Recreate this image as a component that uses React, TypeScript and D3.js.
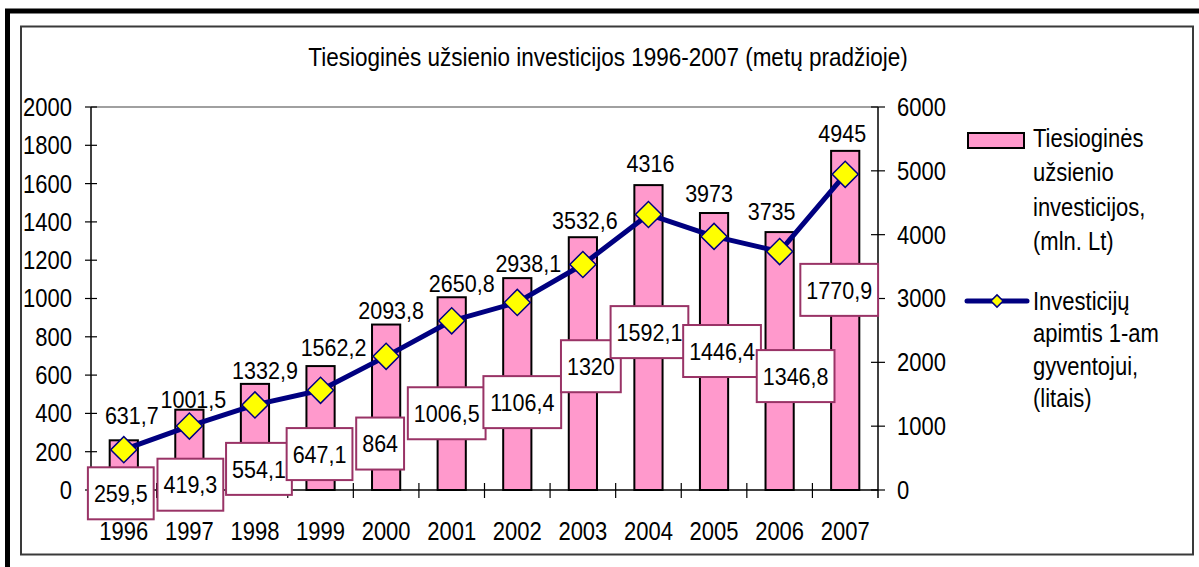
import React from "react";
import * as d3 from "d3";

// data (mln. Lt and litai per resident)
const years = ["1996", "1997", "1998", "1999", "2000", "2001", "2002", "2003", "2004", "2005", "2006", "2007"];
const investTotal = [259.5, 419.3, 554.1, 647.1, 864, 1006.5, 1106.4, 1320, 1592.1, 1446.4, 1346.8, 1770.9];
const investPerCapita = [631.7, 1001.5, 1332.9, 1562.2, 2093.8, 2650.8, 2938.1, 3532.6, 4316, 3973, 3735, 4945];
const leftTicks = [0, 200, 400, 600, 800, 1000, 1200, 1400, 1600, 1800, 2000];
const rightTicks = [0, 1000, 2000, 3000, 4000, 5000, 6000];

// label placement (hand-moved labels in the original)
const barLabelDx = [-3, 1, 4, -1, -6, -5, 5, 8, 1, 8, 16, -6];
const barLabelDy = [53, 75, 85, 88, 119, 116, 124, 129, 147, 138, 144, 139];
const lineLabelDx = [8, 4, 10, 13, 5, 10, 11, 2, 2, -5, -8, -3];
const lineLabelDy = [-34, -27, -35, -43, -46, -38, -39, -44, -51, -43, -40, -41];

const legendBarText = ["Tiesioginės", "užsienio", "investicijos,", "(mln. Lt)"];
const legendLineText = ["Investicijų", "apimtis 1-am", "gyventojui,", "(litais)"];

const W = 1199;
const H = 567;
const FONT = "'Liberation Sans', Arial, sans-serif";
const FS = 21.5;
const STRETCH = 1.13; // the original text is a bit taller than plain Arial

const plot = { left: 91, right: 878, top: 107, bottom: 490 };

const fmt = (v: number) => String(v).replace(".", ",");
// rough width of a label in Arial-metric font
const textWidth = (s: string) =>
  s.split("").reduce((a, c) => a + (c === "," ? 0.278 : 0.556), 0) * FS;

// text placed by its vertical center, stretched a little in height
const T = ({ x, y, size = FS, anchor = "start", children }: any) => (
  <text
    transform={`translate(${x},${y + size * 0.36 * STRETCH}) scale(1,${STRETCH})`}
    textAnchor={anchor}
    fontSize={size}
  >
    {children}
  </text>
);

export default function App() {
  const x = d3
    .scaleBand<string>()
    .domain(years)
    .range([plot.left, plot.right])
    .paddingInner(0.57)
    .paddingOuter(0.285);
  const cx = (d: string) => (x(d) as number) + x.bandwidth() / 2;
  const step = x.step();

  const yL = d3.scaleLinear().domain([0, 2000]).range([plot.bottom, plot.top]);
  const yR = d3.scaleLinear().domain([0, 6000]).range([plot.bottom, plot.top]);

  const line = d3
    .line<number>()
    .x((_, i) => cx(years[i]))
    .y((d) => yR(d));

  const diamond = d3.symbol().type(d3.symbolSquare).size(340)();
  const smallDiamond = d3.symbol().type(d3.symbolSquare).size(75)();

  return (
    <svg
      width={W}
      height={H}
      style={{ position: "absolute", left: 0, top: 0, background: "#fff" }}
      fontFamily={FONT}
    >
      {/* outer frame */}
      <path d={`M7.5,${H} L7.5,11 L${W},11`} fill="none" stroke="#000" strokeWidth={5} />
      {/* chart area */}
      <rect x={21} y={26.5} width={1172} height={528} fill="#fff" stroke="#3a3a3a" strokeWidth={2} />

      <T x={608} y={57} size={22.5} anchor="middle">
        Tiesioginės užsienio investicijos 1996-2007 (metų pradžioje)
      </T>

      {/* plot border */}
      <line x1={plot.left} x2={plot.right} y1={plot.top} y2={plot.top} stroke="#808080" strokeWidth={1.5} />

      {/* bars */}
      {investTotal.map((v, i) => (
        <rect
          key={"b" + i}
          x={x(years[i])}
          y={yL(v)}
          width={x.bandwidth()}
          height={yL(0) - yL(v)}
          fill="#ff99cc"
          stroke="#000"
          strokeWidth={2}
        />
      ))}

      {/* axes */}
      <line x1={plot.left} x2={plot.left} y1={plot.top} y2={plot.bottom} stroke="#000" strokeWidth={1.5} />
      <line x1={plot.right} x2={plot.right} y1={plot.top} y2={plot.bottom + 8} stroke="#404040" strokeWidth={2} />
      <line x1={plot.left} x2={plot.right} y1={plot.bottom} y2={plot.bottom} stroke="#000" strokeWidth={1.5} />

      {leftTicks.map((t) => (
        <g key={"l" + t}>
          <line x1={plot.left - 6} x2={plot.left + 6} y1={yL(t)} y2={yL(t)} stroke="#000" strokeWidth={1.2} />
          <T x={72} y={yL(t)} size={22} anchor="end">
            {t}
          </T>
        </g>
      ))}
      {rightTicks.map((t) => (
        <g key={"r" + t}>
          <line x1={plot.right - 7} x2={plot.right + 7} y1={yR(t)} y2={yR(t)} stroke="#000" strokeWidth={1.2} />
          <T x={897} y={yR(t)} size={22}>
            {t}
          </T>
        </g>
      ))}
      {years.map((yr, i) => (
        <g key={"x" + yr}>
          {i > 0 && (
            <line
              x1={cx(yr) - step / 2}
              x2={cx(yr) - step / 2}
              y1={plot.bottom - 7}
              y2={plot.bottom + 8}
              stroke="#000"
              strokeWidth={1.2}
            />
          )}
          <T x={cx(yr)} y={531} size={22} anchor="middle">
            {yr}
          </T>
        </g>
      ))}

      {/* per-capita line */}
      <path d={line(investPerCapita) || ""} fill="none" stroke="#000080" strokeWidth={5} strokeLinejoin="round" />
      {investPerCapita.map((v, i) => (
        <path
          key={"m" + i}
          d={diamond || ""}
          transform={`translate(${cx(years[i])},${yR(v)}) rotate(45)`}
          fill="#ffff00"
          stroke="#000080"
          strokeWidth={1.5}
        />
      ))}

      {/* line labels */}
      {investPerCapita.map((v, i) => (
        <T key={"ll" + i} x={cx(years[i]) + lineLabelDx[i]} y={yR(v) + lineLabelDy[i]} anchor="middle">
          {fmt(v)}
        </T>
      ))}

      {/* bar labels in boxes */}
      {investTotal.map((v, i) => {
        const s = fmt(v);
        const w = textWidth(s) + 12;
        const h = 52;
        const mx = cx(years[i]) + barLabelDx[i];
        const my = yL(v) + barLabelDy[i];
        return (
          <g key={"bl" + i}>
            <rect x={mx - w / 2} y={my - h / 2} width={w} height={h} fill="#fff" stroke="#993366" strokeWidth={2} />
            <T x={mx} y={my} anchor="middle">
              {s}
            </T>
          </g>
        );
      })}

      {/* legend */}
      <rect x={968} y={133} width={56} height={15} fill="#ff99cc" stroke="#000" strokeWidth={2} />
      {legendBarText.map((t, i) => (
        <T key={"lg1" + i} x={1033} y={138 + i * 34.5} size={22}>
          {t}
        </T>
      ))}
      <line x1={967} x2={1027} y1={301} y2={301} stroke="#000080" strokeWidth={5} strokeLinecap="round" />
      <path
        d={smallDiamond || ""}
        transform="translate(997,301) rotate(45)"
        fill="#ffff00"
        stroke="#000080"
        strokeWidth={1.5}
      />
      {legendLineText.map((t, i) => (
        <T key={"lg2" + i} x={1033} y={301 + i * 32.5} size={22}>
          {t}
        </T>
      ))}
    </svg>
  );
}
